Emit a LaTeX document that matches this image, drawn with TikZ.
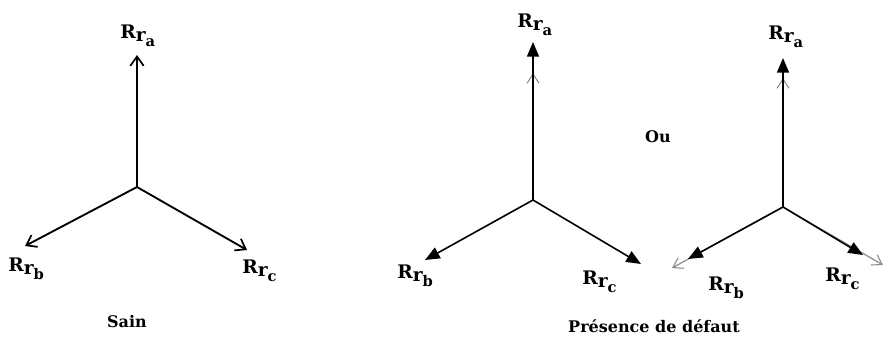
\documentclass[tikz,border=0pt]{standalone}
\usepackage{fontspec}
\setmainfont{DejaVu Serif}
\usetikzlibrary{arrows.meta, positioning}

% phasor label R_{r_x}
\newcommand{\rlab}[1]{R\raisebox{-0.3ex}{r}\raisebox{-0.75ex}{\fontsize{11}{12}\selectfont #1}}

\begin{document}
\begin{tikzpicture}[
    x=0.75pt, y=-0.75pt,
    lab/.style={anchor=north west, inner sep=0pt, font=\fontsize{14}{16}\selectfont\bfseries},
    caption/.style={inner sep=0pt, font=\fontsize{12}{14}\selectfont\bfseries},
    sainvec/.style={-{Straight Barb[length=7pt, width=10pt, line width=1.3pt]}, line width=1.4pt},
    faultvec/.style={-{Triangle[length=11pt, width=9pt]}, line width=1.2pt},
    refvec/.style={-{Straight Barb[length=7pt, width=9pt, line width=0.8pt]}, line width=0.9pt, gray!90}
]
    \useasboundingbox (0,0) rectangle (886,340);

    % healthy machine
    \coordinate (o1) at (137,187);
    \coordinate (a1) at (137,55);
    \coordinate (b1) at (25,246);
    \coordinate (c1) at (247,250);
    \draw[sainvec] (o1) -- (a1);
    \draw[sainvec] (o1) -- (b1);
    \draw[sainvec] (o1) -- (c1);
    \node[lab] (la1) at (120,25) {\rlab{a}};
    \node[lab] (lb1) at (8,258) {\rlab{b}};
    \node[lab] (lc1) at (242,260) {\rlab{c}};
    \node[caption] (sain) at (127,322) {Sain};

    % fault, first case
    \coordinate (o2) at (533,200);
    \coordinate (g2) at (533,73);
    \coordinate (a2) at (533,42);
    \coordinate (b2) at (425,260);
    \coordinate (c2) at (641,264);
    \draw[refvec] (o2) -- (g2);
    \draw[faultvec] (o2) -- (a2);
    \draw[faultvec] (o2) -- (b2);
    \draw[faultvec] (o2) -- (c2);
    \node[lab] (la2) at (517,14) {\rlab{a}};
    \node[lab] (lb2) at (397,265) {\rlab{b}};
    \node[lab] (lc2) at (582,271) {\rlab{c}};

    \node[caption] (ou) at (658,137) {Ou};

    % fault, second case
    \coordinate (o3) at (783,207);
    \coordinate (g3a) at (783,78);
    \coordinate (g3b) at (672,268);
    \coordinate (g3c) at (883,265);
    \coordinate (a3) at (783,58);
    \coordinate (b3) at (688,259);
    \coordinate (c3) at (863,255);
    \draw[refvec] (o3) -- (g3a);
    \draw[refvec] (o3) -- (g3b);
    \draw[refvec] (o3) -- (g3c);
    \draw[faultvec] (o3) -- (a3);
    \draw[faultvec] (o3) -- (b3);
    \draw[faultvec] (o3) -- (c3);
    \node[lab] (la3) at (768,26) {\rlab{a}};
    \node[lab] (lb3) at (708,277) {\rlab{b}};
    \node[lab] (lc3) at (825,268) {\rlab{c}};

    \node[caption] (defaut) at (654,326) {Présence de défaut};
\end{tikzpicture}
\end{document}
